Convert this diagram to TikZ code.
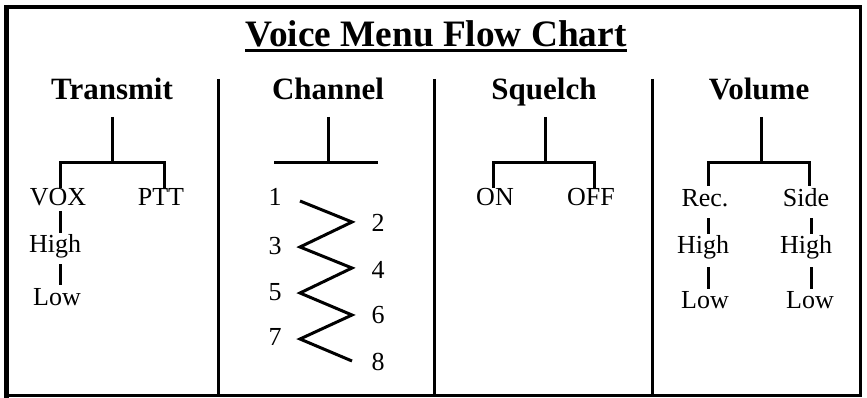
\documentclass[tikz,border=0pt]{standalone}
\usepackage{fontspec}
\setmainfont{Liberation Serif}
\begin{document}
\begin{tikzpicture}[x=1pt,y=-1pt,
  ln/.style={line width=3pt},
  frame/.style={line width=3.8pt},
  lbl/.style={anchor=base,inner sep=0pt,font=\fontsize{26}{26}\selectfont},
  hdr/.style={anchor=base,inner sep=0pt,font=\fontsize{31}{31}\selectfont\bfseries},
  ttl/.style={anchor=base,inner sep=0pt,font=\fontsize{37.3}{37.3}\selectfont\bfseries},
]
\useasboundingbox (0,0) rectangle (867,398);
% frame
\draw[frame] (6,7) rectangle (860.5,395.5);
\draw[line width=5.5pt] (6.5,5) -- (6.5,397.5);
% title
\node[ttl] (title) at (436,47) {Voice Menu Flow Chart};
\draw[line width=2.2pt] ([yshift=-3.5pt]title.base west) -- ([yshift=-3.5pt]title.base east);
% dividers
\coordinate (d1t) at (218,79); \coordinate (d1b) at (218,395);
\coordinate (d2t) at (434,79); \coordinate (d2b) at (434,395);
\coordinate (d3t) at (652,79); \coordinate (d3b) at (652,395);
\draw[ln] (d1t) -- (d1b);
\draw[ln] (d2t) -- (d2b);
\draw[ln] (d3t) -- (d3b);
% headers
\node[hdr] (htx) at (112,100) {Transmit};
\node[hdr] (hch) at (328,100) {Channel};
\node[hdr] (hsq) at (544,100) {Squelch};
\node[hdr] (hvo) at (759,100) {Volume};

% ---------- Transmit ----------
\coordinate (txs) at (112,117);
\coordinate (txj) at (112,163);
\coordinate (txl) at (60,163);
\coordinate (txr) at (164,163);
\coordinate (txld) at (60,188);
\coordinate (txrd) at (164,188);
\draw[ln] (txs) -- (txj);
\draw[ln] (txld) -- (txl) -- (txr) -- (txrd);
\node[lbl] (vox) at (58,206) {VOX};
\node[lbl] (ptt) at (161,206) {PTT};
\node[lbl] (txh) at (55,252) {High};
\node[lbl] (txlo) at (57,305) {Low};
\coordinate (t1a) at (60,211); \coordinate (t1b) at (60,233);
\coordinate (t2a) at (60,264); \coordinate (t2b) at (60,285);
\draw[ln] (t1a) -- (t1b);
\draw[ln] (t2a) -- (t2b);

% ---------- Channel ----------
\coordinate (chs) at (328,117);
\coordinate (chj) at (328,163);
\coordinate (chl) at (274,163);
\coordinate (chr) at (378,163);
\draw[ln] (chs) -- (chj);
\draw[ln] (chl) -- (chr);
\node[lbl] (c1) at (275,206) {1};
\node[lbl] (c2) at (378,231) {2};
\node[lbl] (c3) at (275,254) {3};
\node[lbl] (c4) at (378,278) {4};
\node[lbl] (c5) at (275,300) {5};
\node[lbl] (c6) at (378,323) {6};
\node[lbl] (c7) at (275,345) {7};
\node[lbl] (c8) at (378,370) {8};
\coordinate (z1) at (300,201);
\coordinate (z2) at (352,222);
\coordinate (z3) at (300,247);
\coordinate (z4) at (352,268);
\coordinate (z5) at (300,293);
\coordinate (z6) at (352,315);
\coordinate (z7) at (300,339);
\coordinate (z8) at (352,361);
\draw[ln,line join=miter] (z1) -- (z2) -- (z3) -- (z4) -- (z5) -- (z6) -- (z7) -- (z8);

% ---------- Squelch ----------
\coordinate (sqs) at (545,117);
\coordinate (sqj) at (545,163);
\coordinate (sql) at (493,163);
\coordinate (sqr) at (594,163);
\coordinate (sqld) at (493,188);
\coordinate (sqrd) at (594,188);
\draw[ln] (sqs) -- (sqj);
\draw[ln] (sqld) -- (sql) -- (sqr) -- (sqrd);
\node[lbl] (on) at (495,206) {ON};
\node[lbl] (off) at (591,206) {OFF};

% ---------- Volume ----------
\coordinate (vos) at (761,117);
\coordinate (voj) at (761,163);
\coordinate (vol) at (708,163);
\coordinate (vor) at (809,163);
\coordinate (vold) at (708,186);
\coordinate (vord) at (809,186);
\draw[ln] (vos) -- (voj);
\draw[ln] (vold) -- (vol) -- (vor) -- (vord);
\node[lbl] (rec) at (705,207) {Rec.};
\node[lbl] (side) at (806,207) {Side};
\node[lbl] (vrh) at (703,253) {High};
\node[lbl] (vsh) at (806,253) {High};
\node[lbl] (vrl) at (705,308) {Low};
\node[lbl] (vsl) at (810,308) {Low};
\coordinate (v1a) at (708,218); \coordinate (v1b) at (708,234);
\coordinate (v2a) at (708,267); \coordinate (v2b) at (708,289);
\coordinate (v3a) at (811,218); \coordinate (v3b) at (811,234);
\coordinate (v4a) at (811,267); \coordinate (v4b) at (811,289);
\draw[ln] (v1a) -- (v1b);
\draw[ln] (v2a) -- (v2b);
\draw[ln] (v3a) -- (v3b);
\draw[ln] (v4a) -- (v4b);
\end{tikzpicture}
\end{document}
